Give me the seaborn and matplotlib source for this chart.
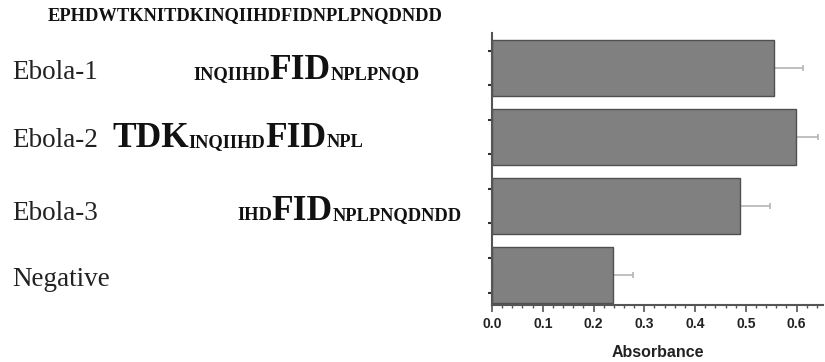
import numpy as np
import seaborn as sns
import matplotlib.pyplot as plt
from matplotlib.ticker import MultipleLocator, FixedLocator
from matplotlib.transforms import IdentityTransform

# ==========================================
# DATA
# ==========================================
samples = ['Ebola-1', 'Ebola-2', 'Ebola-3', 'Negative']
absorbance = [0.556, 0.598, 0.488, 0.238]
abs_err = [0.056, 0.044, 0.059, 0.040]

full_sequence = 'EPHDWTKNITDKINQIIHDFIDNPLPNQDNDD'
# peptide pieces: (text, emphasised)
peptides = [
    [('INQIIHD', False), ('FID', True), ('NPLPNQD', False)],
    [('TDK', True), ('INQIIHD', False), ('FID', True), ('NPL', False)],
    [('IHD', False), ('FID', True), ('NPLPNQDNDD', False)],
    [],
]

# ==========================================
# FIGURE
# ==========================================
sns.set_style('ticks')
W, H = 825, 362
fig = plt.figure(figsize=(W / 100, H / 100), dpi=100)
ax = fig.add_axes([492 / W, 1 - 305 / H, (823 - 492) / W, (305 - 33) / H])

sns.barplot(x=absorbance, y=samples, orient='h', color='#808080', saturation=1,
            edgecolor='#505050', linewidth=1, width=0.81, ax=ax)
# one-sided error bars, tucked under the bars so no cap shows at the bar end
ax.errorbar(absorbance, np.arange(len(samples)), xerr=[np.zeros(len(samples)), abs_err],
            fmt='none', ecolor='#b5b5b5', elinewidth=1.2, capsize=2.5, capthick=1.2,
            zorder=0.5)

ax.set_xlim(0, 0.652)
ax.set_ylim(3.43, -0.505)
sns.despine(ax=ax)
for side in ['left', 'bottom']:
    ax.spines[side].set_color('#555555')
    ax.spines[side].set_linewidth(1.5)

ax.set_yticks([])
ax.yaxis.set_minor_locator(FixedLocator([i + d for i in range(len(samples)) for d in (-0.25, 0.25)]))
ax.tick_params(axis='y', which='minor', direction='inout', length=6, width=1.5, color='#333333')
ax.xaxis.set_major_locator(MultipleLocator(0.1))
ax.xaxis.set_minor_locator(MultipleLocator(0.02))
ax.tick_params(axis='x', which='major', length=5, width=1.2, color='#555555', pad=4)
ax.tick_params(axis='x', which='minor', length=2.5, width=1, color='#555555')
for lab in ax.get_xticklabels():
    lab.set_fontfamily('Liberation Sans')
    lab.set_fontweight('bold')
    lab.set_fontsize(10)
    lab.set_color('#222222')
ax.set_xlabel('Absorbance', family='Liberation Sans', fontweight='bold', fontsize=11.5,
              color='#222222', labelpad=10)
ax.set_ylabel('')

# ==========================================
# SEQUENCE TEXT (pixel positions, baselines from top)
# ==========================================
renderer = fig.canvas.get_renderer()
serif = 'Liberation Serif'
small, big = 13.3, 25.5


def draw_pieces(x, base, pieces):
    for txt, emph in pieces:
        t = fig.text(x, H - base, txt, transform=IdentityTransform(), family=serif,
                     fontweight='bold', fontsize=big if emph else small,
                     va='baseline', ha='left', color='#111111')
        x = t.get_window_extent(renderer).x1


draw_pieces(48, 20, [(full_sequence, False)])

label_base = [79, 147, 220, 286]
pep_x = [193, 112, 237, 0]
for name, base, px, pieces in zip(samples, label_base, pep_x, peptides):
    fig.text(12, H - base, name, transform=IdentityTransform(), family=serif,
             fontsize=19.5, va='baseline', ha='left', color='#222222')
    draw_pieces(px, base, pieces)

fig.savefig('out.png', dpi=100)
